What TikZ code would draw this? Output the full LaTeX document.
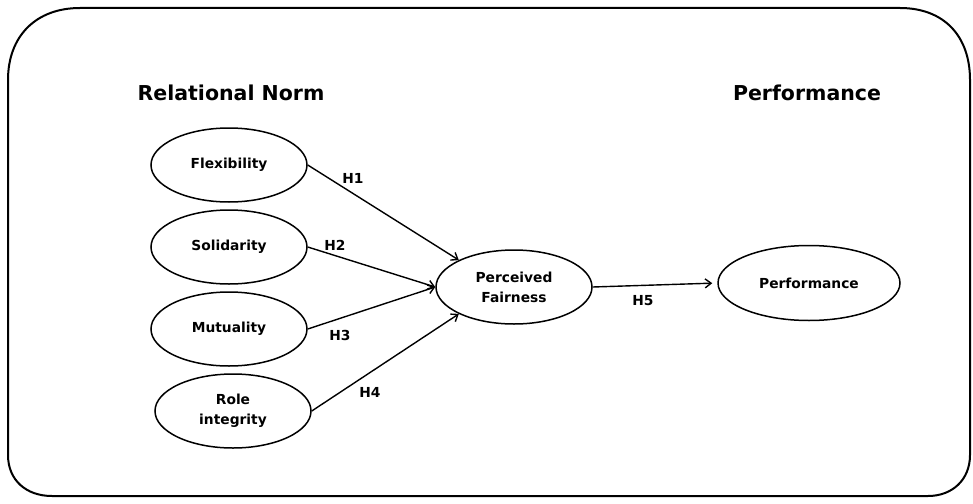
\documentclass[tikz,border=0pt]{standalone}
\usepackage{fontspec}
\setsansfont{DejaVu Sans}
\usetikzlibrary{arrows.meta,shapes.geometric}
\tikzset{
  latent/.style={ellipse,draw,line width=1.5pt,inner sep=0pt,minimum width=156pt,minimum height=74pt,align=center,
    font=\sffamily\bfseries\fontsize{13.8}{20}\selectfont},
  path/.style={line width=1.4pt,-{Straight Barb[length=6pt,width=9pt,line width=1.4pt]}},
  hlab/.style={font=\sffamily\bfseries\fontsize{13.8}{16}\selectfont},
  heading/.style={font=\sffamily\bfseries\fontsize{20.5}{24}\selectfont}
}
\begin{document}
\begin{tikzpicture}[x=1pt,y=-1pt]
\useasboundingbox (0,0) rectangle (973,503);
% outer frame
\draw[line width=2pt] (8,80) .. controls (8,36) and (36,8) .. (80,8) -- (900,8)
  .. controls (944,8) and (970,36) .. (970,80) -- (970,455)
  .. controls (970,480) and (952,496) .. (928,496) -- (52,496)
  .. controls (26,496) and (8,480) .. (8,455) -- cycle;
% headings
\node[heading] (hrn) at (231,93) {Relational Norm};
\node[heading] (hperf) at (807,93) {Performance};
% constructs
\node[latent] (flex) at (229,165) {Flexibility};
\node[latent] (soli) at (229,247) {Solidarity};
\node[latent] (mutu) at (229,329) {Mutuality};
\node[latent] (role) at (233,411) {Role\\integrity};
\node[latent] (pf) at (514,287) {Perceived\\Fairness};
\node[latent,minimum width=182pt,minimum height=75pt] (perf) at (809,283) {Performance};
% paths
\draw[path] (flex.east) -- (pf.154);
\draw[path] (soli.east) -- (pf.west);
\draw[path] (mutu.east) -- (pf.west);
\draw[path] (role.east) -- (pf.206);
\draw[path,shorten >=5pt] (pf.east) -- (perf.west);
% labels
\node[hlab] (h1) at (353,178) {H1};
\node[hlab] (h2) at (335,245) {H2};
\node[hlab] (h3) at (340,335) {H3};
\node[hlab] (h4) at (370,392) {H4};
\node[hlab] (h5) at (643,301) {H5};
\end{tikzpicture}
\end{document}
